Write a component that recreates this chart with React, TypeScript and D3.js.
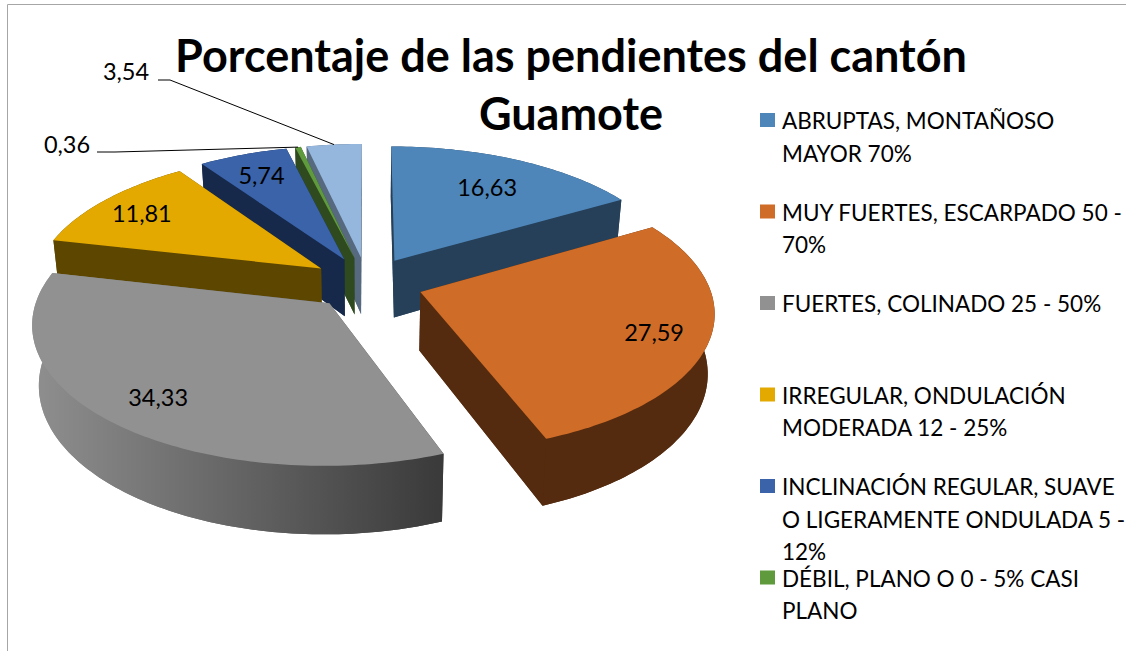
import React from 'react';
import * as d3 from 'd3';

const title = ['Porcentaje de las pendientes del cantón', 'Guamote'];
const values = [16.63, 27.59, 34.33, 11.81, 5.74, 0.36, 3.54];
const legendLines = [
  ['ABRUPTAS, MONTAÑOSO', 'MAYOR 70%'],
  ['MUY FUERTES, ESCARPADO 50 -', '70%'],
  ['FUERTES, COLINADO 25 - 50%'],
  ['IRREGULAR, ONDULACIÓN', 'MODERADA 12 - 25%'],
  ['INCLINACIÓN REGULAR, SUAVE', 'O LIGERAMENTE ONDULADA 5 -', '12%'],
  ['DÉBIL, PLANO O 0 - 5% CASI', 'PLANO'],
];
const topColors = ['#4f86ba', '#cf6c27', '#919191', '#e4a900', '#3a63aa', '#5f9b3d', '#95b6dd'];
const wallColors = ['#264059', '#552b0f', 'url(#grayWall)', '#5d4700', '#16294a', '#2e4a1e', '#56697f'];

// back to front, the slices overlap each other
const drawOrder = [6, 5, 4, 3, 0, 1, 2];
const labelRadius = [0.73, 0.815, 0.8, 0.82, 0.8, 0, 0];

const WIDTH = 1126;
const HEIGHT = 651;
const FONT_LABEL = 23.5;
const FONT_LEGEND = 22.5;
const explode = 0.195;
const depth = 58;

const xScale = d3.scaleLinear().domain([-1, 1]).range([367 - 288, 367 + 288]);
const yScale = d3.scaleLinear().domain([-1, 1]).range([283 - 135, 283 + 135]);

// fake perspective: things closer to the viewer (v > 0) get bigger
const project = (u: number, v: number, low = false): [number, number] => {
  const s = 1 / (1 - v / 7.5);
  const shrink = low ? 0.98 : 1;
  const x = xScale(u * s * shrink);
  const y = yScale(v * s) + (low ? depth * s : 0);
  return [x, y];
};

const slices = d3.pie<number>().sort(null).value((d) => d)(values);

const polar = (angle: number, r: number, mid: number) => [
  explode * Math.sin(mid) + r * Math.sin(angle),
  -explode * Math.cos(mid) - r * Math.cos(angle),
];

const line = d3.line();

const legendY = d3.scaleLinear().domain([0, 5]).range([113, 570.5]);

export default function App() {
  const shapes = drawOrder.map((i) => {
    const s = slices[i];
    const mid = (s.startAngle + s.endAngle) / 2;
    const angles = [...d3.range(s.startAngle, s.endAngle, 0.02), s.endAngle];
    const rim = angles.map((a) => polar(a, 1, mid));
    const apex = polar(0, 0, mid);
    const outline = [apex, ...rim];
    const top = outline.map(([u, v]) => project(u, v));
    const bottom = outline.map(([u, v]) => project(u, v, true));
    // outer wall and the two cut faces
    const rimTop = top.slice(1);
    const rimBottom = bottom.slice(1);
    const walls = [
      [...rimTop, ...rimBottom.slice().reverse()],
      [top[0], rimTop[0], rimBottom[0], bottom[0]],
      [top[0], rimTop[rimTop.length - 1], rimBottom[rimBottom.length - 1], bottom[0]],
    ];
    return (
      <g key={i}>
        <path d={line(bottom) + 'Z'} fill={wallColors[i]} />
        {walls.map((w, k) => (
          <path key={k} d={line(w as [number, number][]) + 'Z'} fill={wallColors[i]} />
        ))}
        <path d={line(top) + 'Z'} fill={topColors[i]} />
      </g>
    );
  });

  const fmt = (v: number) => v.toFixed(2).replace('.', ',');

  const labels = slices.slice(0, 5).map((s, i) => {
    const mid = (s.startAngle + s.endAngle) / 2;
    const [u, v] = polar(mid, labelRadius[i], mid);
    const [x, y] = project(u, v);
    return (
      <text key={i} x={x} y={y} dy="0.45em" textAnchor="middle" fontSize={FONT_LABEL}>
        {fmt(s.value)}
      </text>
    );
  });

  const rimAt = (i: number) => {
    const s = slices[i];
    const mid = (s.startAngle + s.endAngle) / 2;
    const [u, v] = polar(mid, 1, mid);
    return project(u, v);
  };

  const green = rimAt(5);
  const light = rimAt(6);

  return (
    <svg
      width={WIDTH}
      height={HEIGHT}
      style={{ position: 'absolute', left: 0, top: 0, background: '#fff' }}
      fontFamily="Lato, sans-serif"
      fill="#000"
    >
      <defs>
        <linearGradient id="grayWall" gradientUnits="userSpaceOnUse" x1={33} x2={441} y1={0} y2={0}>
          <stop offset="0" stopColor="#8f8f8f" />
          <stop offset="1" stopColor="#3a3a3a" />
        </linearGradient>
      </defs>

      <path d={`M7.5,${HEIGHT}V4.5H${WIDTH}`} fill="none" stroke="#a6a6a6" strokeWidth={1} />

      {shapes}
      {labels}

      <text x={126} y={72} dy="0.35em" textAnchor="middle" fontSize={FONT_LABEL}>{fmt(values[6])}</text>
      <text x={67} y={145} dy="0.35em" textAnchor="middle" fontSize={FONT_LABEL}>{fmt(values[5])}</text>
      <path d={line([[158, 80], [170, 80], light])!} fill="none" stroke="#000" strokeWidth={1} />
      <path d={line([[97, 152], [115, 152], green])!} fill="none" stroke="#000" strokeWidth={1} />

      {title.map((t, i) => (
        <text key={t} x={571} y={72 + i * 58} textAnchor="middle" fontSize={45} fontWeight={700}>
          {t}
        </text>
      ))}

      {legendLines.map((lines, i) => (
        <g key={i}>
          <rect x={760} y={legendY(i)} width={15} height={14} fill={topColors[i]} />
          {lines.map((l, k) => (
            <text key={k} x={782} y={legendY(i) + 16 + k * 32.5} fontSize={FONT_LEGEND}>
              {l}
            </text>
          ))}
        </g>
      ))}
    </svg>
  );
}
